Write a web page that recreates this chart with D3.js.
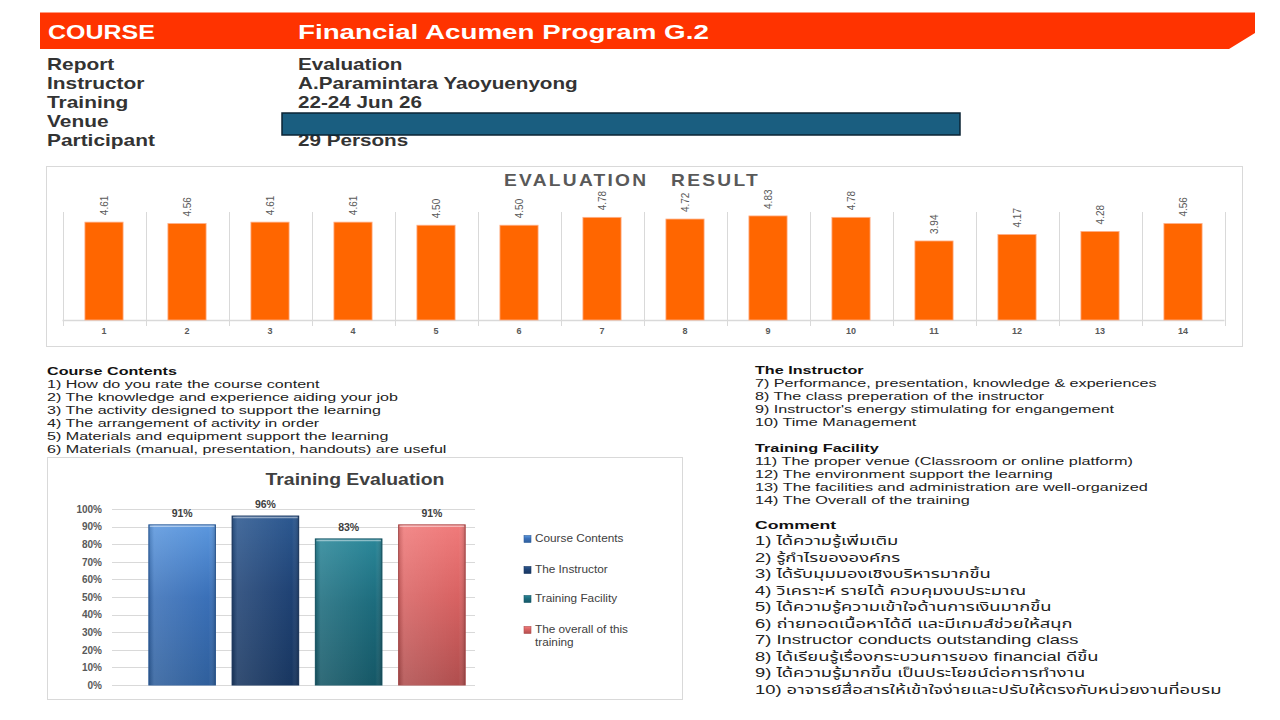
<!DOCTYPE html>
<html>
<head>
<meta charset="utf-8">
<script src="https://cdn.jsdelivr.net/npm/d3@7"></script>
<style>
  body { margin: 0; background: #fff; }
  text { font-family: "Liberation Sans", Arial, sans-serif; }
  .thai { font-family: "Liberation Sans", "Noto Sans Thai", "Noto Sans", sans-serif; }
</style>
</head>
<body>
<div id="chart-container"></div>
<script>
// ---- data ----
var questionNums = ["1","2","3","4","5","6","7","8","9","10","11","12","13","14"];
var questionScores = [4.61, 4.56, 4.61, 4.61, 4.50, 4.50, 4.78, 4.72, 4.83, 4.78, 3.94, 4.17, 4.28, 4.56];

var groupNames = ["Course Contents", "The Instructor", "Training Facility", "The overall of this training"];
var groupValues = [0.91, 0.96, 0.83, 0.91];
var percentTicks = [0, 0.1, 0.2, 0.3, 0.4, 0.5, 0.6, 0.7, 0.8, 0.9, 1.0];

var infoLabels = ["Report", "Instructor", "Training", "Venue", "Participant"];
var infoValues = ["Evaluation", "A.Paramintara Yaoyuenyong", "22-24 Jun 26", "", "29 Persons"];

var courseItems = [
  "1) How do you rate the course content",
  "2) The knowledge and experience aiding your job",
  "3) The activity designed to support the learning",
  "4) The arrangement of activity in order",
  "5) Materials and equipment support the learning",
  "6) Materials (manual, presentation, handouts) are useful"
];
var instructorItems = [
  "7) Performance, presentation, knowledge & experiences",
  "8) The class preperation of the instructor",
  "9) Instructor's energy stimulating for engangement",
  "10) Time Management"
];
var facilityItems = [
  "11) The proper venue (Classroom or online platform)",
  "12) The environment support the learning",
  "13) The facilities and administration are well-organized",
  "14) The Overall of the training"
];
var comments = [
  "1) ได้ความรู้เพิ่มเติม",
  "2) รู้กำไรขององค์กร",
  "3) ได้รับมุมมองเชิงบริหารมากขึ้น",
  "4) วิเคราะห์ รายได้ ควบคุมงบประมาณ",
  "5) ได้ความรู้ความเข้าใจด้านการเงินมากขึ้น",
  "6) ถ่ายทอดเนื้อหาได้ดี และมีเกมส์ช่วยให้สนุก",
  "7) Instructor conducts outstanding class",
  "8) ได้เรียนรู้เรื่องกระบวนการของ financial ดีขึ้น",
  "9) ได้ความรู้มากขึ้น เป็นประโยชน์ต่อการทำงาน",
  "10) อาจารย์สื่อสารให้เข้าใจง่ายและปรับให้ตรงกับหน่วยงานที่อบรม"
];

var svg = d3.select("#chart-container")
    .append("svg")
    .attr("width", 1280)
    .attr("height", 720);

// the slide is stretched sideways, so stretch texts to the same width
function stretch(sel, targetW) {
    var maxW = d3.max(sel.nodes(), n => n.getComputedTextLength());
    var sx = targetW / maxW;
    sel.each(function() {
        var t = d3.select(this);
        var x = +t.attr("x");
        t.attr("transform", "translate(" + (x * (1 - sx)) + ",0) scale(" + sx + ",1)");
    });
}

// ---- header bar ----
svg.append("path")
    .attr("d", "M40,12 L1255,12 L1255,33 L1229,49 L40,49 Z")
    .attr("fill", "#ff3300");
svg.append("line")
    .attr("x1", 40).attr("x2", 1255).attr("y1", 12.5).attr("y2", 12.5)
    .attr("stroke", "#ff9a80").attr("stroke-width", 1);

var h1 = svg.append("text")
    .attr("x", 48).attr("y", 39)
    .attr("fill", "#fff")
    .style("font-size", "21px").style("font-weight", "700")
    .text("COURSE");
stretch(h1, 107);
var h2 = svg.append("text")
    .attr("x", 298).attr("y", 39)
    .attr("fill", "#fff")
    .style("font-size", "21px").style("font-weight", "700")
    .text("Financial Acumen Program G.2");
stretch(h2, 411);

// ---- info rows ----
var infoL = svg.append("g").selectAll("text")
    .data(infoLabels)
    .enter().append("text")
    .attr("x", 47).attr("y", (d, i) => 70 + i * 19)
    .attr("fill", "#333")
    .style("font-size", "16.5px").style("font-weight", "700")
    .text(d => d);
stretch(infoL, 108);
var infoV = svg.append("g").selectAll("text")
    .data(infoValues)
    .enter().append("text")
    .attr("x", 298).attr("y", (d, i) => 70 + i * 19)
    .attr("fill", "#333")
    .style("font-size", "16.5px").style("font-weight", "700")
    .text(d => d);
stretch(infoV, 280);
// venue is covered by a box
svg.append("rect")
    .attr("x", 282).attr("y", 113).attr("width", 678).attr("height", 22)
    .attr("fill", "#1a5e80").attr("stroke", "#0b2535").attr("stroke-width", 1.5);

// ---- top chart: evaluation result ----
svg.append("rect")
    .attr("x", 46.5).attr("y", 166.5).attr("width", 1196).attr("height", 180)
    .attr("fill", "none").attr("stroke", "#d9d9d9");

var t1 = svg.append("text")
    .attr("x", 632).attr("y", 186)
    .attr("text-anchor", "middle")
    .attr("fill", "#595959")
    .style("font-size", "17px").style("font-weight", "700").style("letter-spacing", "2px")
    .text("EVALUATION\u00a0\u00a0 RESULT");
stretch(t1, 256);

var xTop = d3.scaleBand()
    .domain(questionNums)
    .range([62.5, 1224.5])
    .paddingInner(0.54)
    .paddingOuter(0.27);
var yTop = d3.scaleLinear()
    .domain([1.13, 4.97])
    .range([320, 212]);

// category separators
var step = xTop.step();
var seps = d3.range(questionNums.length + 1).map(function(i) { return 62.5 + i * step; });
svg.append("g").selectAll("line")
    .data(seps)
    .enter().append("line")
    .attr("x1", d => Math.round(d) + 0.5).attr("x2", d => Math.round(d) + 0.5)
    .attr("y1", 212).attr("y2", 326)
    .attr("stroke", "#d9d9d9");

svg.append("line")
    .attr("x1", 62.5).attr("x2", 1224.5).attr("y1", 320.5).attr("y2", 320.5)
    .attr("stroke", "#d9d9d9").attr("stroke-width", 1.5);

svg.append("g").selectAll("rect")
    .data(questionScores)
    .enter().append("rect")
    .attr("x", (d, i) => xTop(questionNums[i]))
    .attr("y", d => yTop(d))
    .attr("width", xTop.bandwidth())
    .attr("height", d => 320 - yTop(d))
    .attr("fill", "#ff6600")
    .attr("stroke", "#ffb08a").attr("stroke-width", 0.8);

svg.append("g").selectAll("text")
    .data(questionScores)
    .enter().append("text")
    .attr("transform", (d, i) => "translate(" + (xTop(questionNums[i]) + xTop.bandwidth() / 2 + 3.5) + "," + (yTop(d) - 7) + ") rotate(-90)")
    .attr("fill", "#595959")
    .style("font-size", "10px")
    .text(d => d.toFixed(2));

var xAxisTop = d3.axisBottom(xTop).tickSize(0).tickPadding(8);
var gx = svg.append("g")
    .attr("transform", "translate(0,320)")
    .call(xAxisTop);
gx.select(".domain").remove();
gx.selectAll("text")
    .attr("fill", "#595959")
    .style("font-size", "9px").style("font-weight", "700")
    .style("font-family", "Liberation Sans, Arial, sans-serif");

// ---- text lists ----
function textBlock(x, y, title, items, lineH, size, targetW, cls) {
    var g = svg.append("g");
    g.append("text")
        .attr("x", x).attr("y", y)
        .attr("fill", "#111")
        .style("font-size", "11.5px").style("font-weight", "700")
        .text(title);
    g.selectAll("text.item")
        .data(items)
        .enter().append("text")
        .attr("class", "item " + (cls || ""))
        .attr("x", x).attr("y", (d, i) => y + (i + 1) * lineH)
        .attr("fill", "#222")
        .style("font-size", size + "px")
        .text(d => d);
    stretch(g.selectAll("text.item"), targetW);
    var head = g.select("text");
    var sx = targetW / d3.max(g.selectAll("text.item").nodes(), n => n.getComputedTextLength());
    head.attr("transform", "translate(" + (x * (1 - sx)) + ",0) scale(" + sx + ",1)");
}
textBlock(47, 375, "Course Contents", courseItems, 13, 11.5, 400);
textBlock(755, 374, "The Instructor", instructorItems, 13, 11.5, 402);
textBlock(755, 452, "Training Facility", facilityItems, 13, 11.5, 393);
textBlock(755, 529, "Comment", comments, 16.5, 12, 467, "thai");

// ---- bottom chart: training evaluation ----
svg.append("rect")
    .attr("x", 47.5).attr("y", 457.5).attr("width", 635).attr("height", 242)
    .attr("fill", "#fff").attr("stroke", "#d9d9d9");

var t2 = svg.append("text")
    .attr("x", 355).attr("y", 485)
    .attr("text-anchor", "middle")
    .attr("fill", "#404040")
    .style("font-size", "17px").style("font-weight", "700")
    .text("Training Evaluation");
stretch(t2, 179);

var yBot = d3.scaleLinear().domain([0, 1]).range([685, 509]);
var xBot = d3.scaleBand()
    .domain(groupNames)
    .range([112, 475])
    .paddingInner(0.2)
    .paddingOuter(0.28)
    .align(0.79);

svg.append("g").selectAll("line")
    .data(percentTicks)
    .enter().append("line")
    .attr("x1", 112).attr("x2", 475)
    .attr("y1", d => Math.round(yBot(d)) + 0.5).attr("y2", d => Math.round(yBot(d)) + 0.5)
    .attr("stroke", "#d9d9d9");

var yAxisBot = d3.axisLeft(yBot).tickValues(percentTicks).tickFormat(d3.format(".0%")).tickSize(0).tickPadding(10);
var gy = svg.append("g")
    .attr("transform", "translate(112,0)")
    .call(yAxisBot);
gy.select(".domain").remove();
gy.selectAll("text")
    .attr("fill", "#595959")
    .style("font-size", "10px").style("font-weight", "700")
    .style("font-family", "Liberation Sans, Arial, sans-serif");

var barColors = [
    ["#5b97de", "#3a70b8", "#2f5f9c"],
    ["#2c5890", "#1f4274", "#183660"],
    ["#2a8698", "#1c6b7c", "#155766"],
    ["#f07a7a", "#d86262", "#b04e4e"]
];
var defs = svg.append("defs");
barColors.forEach(function(c, i) {
    var g = defs.append("linearGradient")
        .attr("id", "bar" + i)
        .attr("x1", 0).attr("y1", 0).attr("x2", 0).attr("y2", 1);
    g.append("stop").attr("offset", "0%").attr("stop-color", c[0]);
    g.append("stop").attr("offset", "45%").attr("stop-color", c[1]);
    g.append("stop").attr("offset", "100%").attr("stop-color", c[2]);
});
var shade = defs.append("linearGradient")
    .attr("id", "shade")
    .attr("x1", 0).attr("y1", 0).attr("x2", 1).attr("y2", 0);
shade.append("stop").attr("offset", "0%").attr("stop-color", "#000").attr("stop-opacity", 0.15);
shade.append("stop").attr("offset", "8%").attr("stop-color", "#fff").attr("stop-opacity", 0.12);
shade.append("stop").attr("offset", "90%").attr("stop-color", "#fff").attr("stop-opacity", 0);
shade.append("stop").attr("offset", "100%").attr("stop-color", "#000").attr("stop-opacity", 0.2);

svg.append("g").selectAll("rect")
    .data(groupValues)
    .enter().append("rect")
    .attr("x", (d, i) => xBot(groupNames[i]))
    .attr("y", d => yBot(d))
    .attr("width", xBot.bandwidth())
    .attr("height", d => yBot(0) - yBot(d))
    .attr("fill", (d, i) => "url(#bar" + i + ")")
    .attr("stroke", (d, i) => barColors[i][2])
    .attr("stroke-width", 1);
svg.append("g").selectAll("rect")
    .data(groupValues)
    .enter().append("rect")
    .attr("x", (d, i) => xBot(groupNames[i]))
    .attr("y", d => yBot(d))
    .attr("width", xBot.bandwidth())
    .attr("height", d => yBot(0) - yBot(d))
    .attr("fill", "url(#shade)");
// top bevel
svg.append("g").selectAll("line")
    .data(groupValues)
    .enter().append("line")
    .attr("x1", (d, i) => xBot(groupNames[i]) + 1)
    .attr("x2", (d, i) => xBot(groupNames[i]) + xBot.bandwidth() - 1)
    .attr("y1", d => yBot(d) + 1.5).attr("y2", d => yBot(d) + 1.5)
    .attr("stroke", "#fff").attr("stroke-opacity", 0.45).attr("stroke-width", 1.5);

svg.append("g").selectAll("text")
    .data(groupValues)
    .enter().append("text")
    .attr("x", (d, i) => xBot(groupNames[i]) + xBot.bandwidth() / 2)
    .attr("y", d => yBot(d) - 8)
    .attr("text-anchor", "middle")
    .attr("fill", "#404040")
    .style("font-size", "10.5px").style("font-weight", "700")
    .text(d => d3.format(".0%")(d));

// legend
var legendY = [539, 570, 599, 630];
var legend = svg.append("g");
groupNames.forEach(function(name, i) {
    legend.append("rect")
        .attr("x", 524).attr("y", legendY[i] - 3.5)
        .attr("width", 7).attr("height", 7)
        .attr("fill", "url(#bar" + i + ")")
        .attr("stroke", barColors[i][2]).attr("stroke-width", 0.6);
    var t = legend.append("text")
        .attr("class", "leg")
        .attr("x", 535).attr("y", legendY[i] + 3.5)
        .attr("fill", "#404040")
        .style("font-size", "10px");
    if (name.length > 20) {
        t.append("tspan").attr("x", 535).text("The overall of this");
        t.append("tspan").attr("x", 535).attr("dy", 13).text("training");
    } else {
        t.text(name);
    }
});
legend.selectAll("text.leg").each(function() {
    var sx = 1.18;
    d3.select(this).attr("transform", "translate(" + (535 * (1 - sx)) + ",0) scale(" + sx + ",1)");
});
</script>
</body>
</html>
